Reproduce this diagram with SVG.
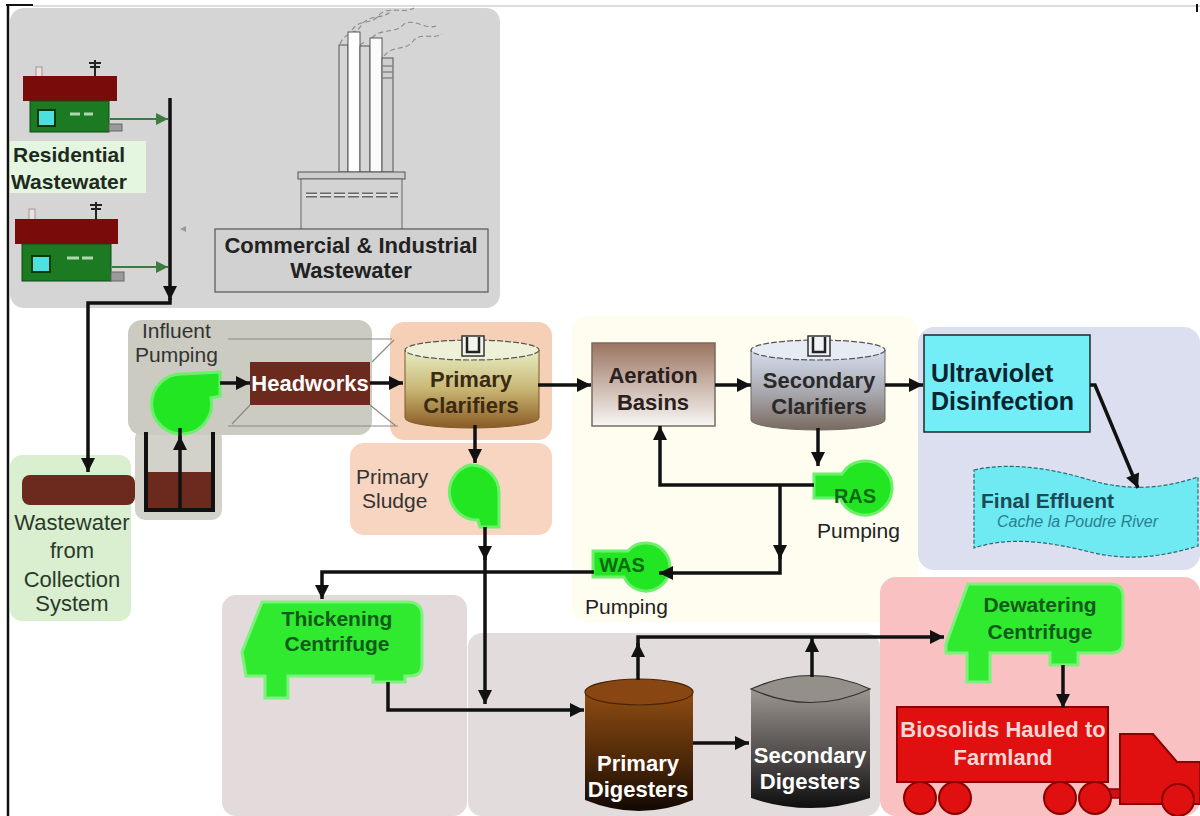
<svg xmlns="http://www.w3.org/2000/svg" width="1200" height="816" viewBox="0 0 1200 816">
  <defs>
    <style>
      text { font-family: "Liberation Sans", Arial, sans-serif; }
      .b { font-weight: bold; font-size: 22px; }
      .r { font-size: 22px; }
      .mid { text-anchor: middle; }
      .flow { fill: none; stroke: #111; stroke-width: 3.5; stroke-linejoin: miter; }
      .feed { fill: none; stroke: #3f7a3f; stroke-width: 2; }
      .pump { fill: #22e622; stroke: #6cf06c; stroke-width: 3; }
      .cent { fill: #2fea2f; stroke: #7cf27c; stroke-width: 3; }
      .thin { fill: none; stroke: #8a8a8a; stroke-width: 1.2; }
      .smoke { fill: none; stroke: #8a8a8a; stroke-width: 1.1; stroke-dasharray: 5 3; }
      .wheel { fill: #e01010; stroke: #8a0000; stroke-width: 2; }
    </style>
    <marker id="ah" viewBox="0 0 10 10" refX="10" refY="5" markerWidth="16" markerHeight="14" markerUnits="userSpaceOnUse" orient="auto">
      <path d="M0 0 L10 5 L0 10 Z" fill="#111"/>
    </marker>
    <marker id="ahg" viewBox="0 0 10 10" refX="10" refY="5" markerWidth="14" markerHeight="12" markerUnits="userSpaceOnUse" orient="auto">
      <path d="M0 0 L10 5 L0 10 Z" fill="#3f7a3f"/>
    </marker>
    <linearGradient id="gClar1" x1="0" y1="0" x2="0" y2="1">
      <stop offset="0" stop-color="#e6eec4"/>
      <stop offset="0.5" stop-color="#c9b674"/>
      <stop offset="1" stop-color="#8a5a24"/>
    </linearGradient>
    <linearGradient id="gAer" x1="0" y1="0" x2="0" y2="1">
      <stop offset="0" stop-color="#9b7460"/>
      <stop offset="1" stop-color="#f8f6f4"/>
    </linearGradient>
    <linearGradient id="gClar2" x1="0" y1="0" x2="0" y2="1">
      <stop offset="0" stop-color="#d4deef"/>
      <stop offset="0.55" stop-color="#a6a6ac"/>
      <stop offset="1" stop-color="#7a6a5e"/>
    </linearGradient>
    <linearGradient id="gDig1" x1="0" y1="0" x2="0" y2="1">
      <stop offset="0" stop-color="#8f4c12"/>
      <stop offset="0.6" stop-color="#4a2608"/>
      <stop offset="1" stop-color="#120804"/>
    </linearGradient>
    <linearGradient id="gDig2" x1="0" y1="0" x2="0" y2="1">
      <stop offset="0" stop-color="#9c9590"/>
      <stop offset="0.6" stop-color="#4a4645"/>
      <stop offset="1" stop-color="#0e0e0e"/>
    </linearGradient>
  </defs>

  <rect x="0" y="0" width="1200" height="816" fill="#ffffff"/>

  <!-- page frame -->
  <g id="frame">
    <line x1="33" y1="6" x2="1200" y2="6" stroke="#b8b8b8" stroke-width="1"/>
    <line x1="6" y1="5" x2="33" y2="5" stroke="#111" stroke-width="2"/>
    <line x1="8" y1="4" x2="8" y2="816" stroke="#111" stroke-width="2.5"/>
    <line x1="1197" y1="4" x2="1197" y2="12" stroke="#111" stroke-width="2"/>
  </g>

  <!-- background zones -->
  <g id="zones">
    <rect x="10" y="8" width="490" height="300" rx="14" fill="#d5d5d5"/>
    <rect x="572" y="316" width="346" height="306" rx="16" fill="#fefdf0"/>
    <rect x="10" y="455" width="121" height="166" rx="12" fill="#d9efcf"/>
    <rect x="135" y="428" width="87" height="92" rx="10" fill="#d2d2ca"/>
    <rect x="128" y="320" width="244" height="115" rx="14" fill="#cbcbc1"/>
    <rect x="390" y="322" width="162" height="118" rx="14" fill="#f6cfb7"/>
    <rect x="350" y="443" width="202" height="92" rx="14" fill="#f7d5c1"/>
    <rect x="918" y="327" width="282" height="243" rx="16" fill="#dcdff0"/>
    <rect x="880" y="577" width="320" height="239" rx="16" fill="#f9c1c1"/>
    <rect x="222" y="595" width="245" height="221" rx="14" fill="#e2dadb"/>
    <rect x="468" y="633" width="412" height="183" rx="14" fill="#e2dcdd"/>
  </g>

  <!-- houses -->
  <g id="house-1">
    <rect x="36" y="67" width="6" height="13" fill="#f2dede" stroke="#999" stroke-width="1"/>
    <path d="M95 60 V76 M89 63 H101 M90 67 H100" stroke="#222" stroke-width="2" fill="none"/>
    <rect x="23" y="76" width="94" height="25" fill="#7a0b0b"/>
    <rect x="30" y="101" width="79" height="31" fill="#1c7a22" stroke="#0f4a12" stroke-width="1"/>
    <rect x="38" y="110" width="17" height="16" fill="#4ee0e0" stroke="#0a3a0a" stroke-width="2"/>
    <path d="M70 114 H80 M84 114 H93" stroke="#b0d8b0" stroke-width="3"/>
    <rect x="109" y="124" width="13" height="7" fill="#9a9a9a" stroke="#666" stroke-width="1"/>
  </g>
  <g id="house-2">
    <rect x="29" y="209" width="6" height="19" fill="#f2dede" stroke="#999" stroke-width="1"/>
    <path d="M96 202 V219 M90 205 H102 M91 209 H101" stroke="#222" stroke-width="2" fill="none"/>
    <rect x="15" y="219" width="103" height="25" fill="#7a0b0b"/>
    <rect x="22" y="244" width="89" height="37" fill="#1c7a22" stroke="#0f4a12" stroke-width="1"/>
    <rect x="32" y="256" width="18" height="16" fill="#4ee0e0" stroke="#0a3a0a" stroke-width="2"/>
    <path d="M67 258 H79 M82 258 H93" stroke="#b0d8b0" stroke-width="3"/>
    <rect x="111" y="272" width="13" height="9" fill="#9a9a9a" stroke="#666" stroke-width="1"/>
  </g>
  <g id="residential-label">
    <rect x="10" y="141" width="136" height="52" fill="#e4f6df"/>
    <text class="r" x="13" y="162" fill="#1e2a1e" style="font-weight:bold;font-size:21px">Residential</text>
    <text class="r" x="11" y="189" fill="#1e2a1e" style="font-weight:bold;font-size:21px">Wastewater</text>
  </g>
  <path d="M186 226 L180 229 L186 232 Z" fill="#999"/>

  <!-- factory -->
  <g id="industry">
    <path class="smoke" d="M340 44 C346 30 356 36 362 24 C370 14 384 20 392 10"/>
    <path class="smoke" d="M352 30 C360 18 372 26 380 14 C390 6 404 14 414 8"/>
    <path class="smoke" d="M372 38 C380 28 396 34 404 24 C414 18 426 30 436 26"/>
    <path class="smoke" d="M384 56 C394 44 406 52 414 40 C422 32 434 40 442 34"/>
    <path class="smoke" d="M346 52 C352 44 360 48 366 40"/>
    <rect x="339" y="45" width="9" height="127" fill="#d6d6d6" stroke="#555" stroke-width="1"/>
    <rect x="348" y="32" width="12" height="140" fill="#ffffff" stroke="#555" stroke-width="1"/>
    <rect x="360" y="46" width="10" height="126" fill="#d6d6d6" stroke="#555" stroke-width="1"/>
    <rect x="370" y="38" width="12" height="134" fill="#fbfbfb" stroke="#555" stroke-width="1"/>
    <rect x="382" y="58" width="11" height="114" fill="#cfcfcf" stroke="#555" stroke-width="1"/>
    <path d="M382 66 H393 M382 72 H393 M382 78 H393" stroke="#888" stroke-width="1.5"/>
    <rect x="298" y="172" width="107" height="7" fill="#cccccc" stroke="#555" stroke-width="1"/>
    <rect x="301" y="179" width="101" height="51" fill="#d3d3d3" stroke="#666" stroke-width="1"/>
    <path d="M306 195 H398" stroke="#666" stroke-width="5" stroke-dasharray="11 3"/>
    <path d="M306 195 H398" stroke="#e4e4e4" stroke-width="2" stroke-dasharray="11 3"/>
    <rect x="215" y="229" width="273" height="63" fill="#d1d1d1" stroke="#555" stroke-width="1.2"/>
    <text class="b mid" x="351" y="253" fill="#222">Commercial &amp; Industrial</text>
    <text class="b mid" x="351" y="278" fill="#222">Wastewater</text>
  </g>

  <!-- collection pipe -->
  <g id="collection">
    <rect x="22" y="475" width="113" height="30" rx="8" fill="#6b2a1d"/>
    <text class="r mid" x="72" y="530" fill="#2a3a2a">Wastewater</text>
    <text class="r mid" x="72" y="558" fill="#2a3a2a">from</text>
    <text class="r mid" x="72" y="587" fill="#2a3a2a">Collection</text>
    <text class="r mid" x="72" y="611" fill="#2a3a2a">System</text>
  </g>

  <!-- influent pumping and wet well -->
  <g id="influent-pumping">
    <text x="142" y="338" fill="#333" style="font-size:21px">Influent</text>
    <text x="135" y="362" fill="#333" style="font-size:21px">Pumping</text>
    <rect x="147" y="472" width="66" height="38" fill="#6b2a1d"/>
    <path d="M146 432 V510 H213 V432" fill="none" stroke="#111" stroke-width="4"/>
    <path class="pump" d="M183 374 L220 372 L220 396 L211 398 A30 30 0 1 1 183 374 Z"/>
  </g>

  <!-- headworks -->
  <g id="headworks">
    <path class="thin" d="M228 339 H392 M228 426 H398 M372 362 L394 340 M370 405 L396 426 M250 405 L232 424"/>
    <rect x="250" y="362" width="120" height="43" fill="#6b2a1d"/>
    <text class="b mid" x="310" y="391" fill="#ffffff">Headworks</text>
  </g>

  <!-- primary clarifiers -->
  <g id="primary-clarifiers">
    <path d="M405 350 V418 A67 10 0 0 0 539 418 V350 Z" fill="url(#gClar1)" stroke="#7a5a2a" stroke-width="1"/>
    <ellipse cx="472" cy="350" rx="67" ry="10" fill="#eef1d8" stroke="#555" stroke-width="1.2" stroke-dasharray="6 2"/>
    <rect x="462" y="336" width="22" height="20" fill="#f4f4ee" stroke="#333" stroke-width="1.5"/>
    <path d="M467 337 V352 H479 V337" fill="none" stroke="#222" stroke-width="2.5"/>
    <text class="b mid" x="471" y="387" fill="#3a2a10">Primary</text>
    <text class="b mid" x="471" y="413" fill="#3a2a10">Clarifiers</text>
  </g>

  <!-- primary sludge pumping -->
  <g id="primary-sludge">
    <text x="356" y="484" fill="#333" style="font-size:21px">Primary</text>
    <text x="362" y="508" fill="#333" style="font-size:21px">Sludge</text>
    <path class="pump" d="M470 465 A28 28 0 0 1 499 493 L499 527 L480 527 L478 520 A28 28 0 0 1 470 465 Z"/>
  </g>

  <!-- aeration basins -->
  <g id="aeration-basins">
    <rect x="592" y="343" width="123" height="83" fill="url(#gAer)" stroke="#7a6a60" stroke-width="1.5"/>
    <text class="b mid" x="653" y="383" fill="#2a2020">Aeration</text>
    <text class="b mid" x="653" y="410" fill="#2a2020">Basins</text>
  </g>

  <!-- secondary clarifiers -->
  <g id="secondary-clarifiers">
    <path d="M751 350 V420 A67 10 0 0 0 885 420 V350 Z" fill="url(#gClar2)" stroke="#6a6a6a" stroke-width="1"/>
    <ellipse cx="818" cy="350" rx="67" ry="10" fill="#e6ebf4" stroke="#555" stroke-width="1.2" stroke-dasharray="6 2"/>
    <rect x="808" y="336" width="22" height="20" fill="#f0f2f6" stroke="#333" stroke-width="1.5"/>
    <path d="M813 337 V352 H825 V337" fill="none" stroke="#222" stroke-width="2.5"/>
    <text class="b mid" x="819" y="388" fill="#2a2a2a">Secondary</text>
    <text class="b mid" x="819" y="414" fill="#2a2a2a">Clarifiers</text>
  </g>

  <!-- RAS pumping -->
  <g id="ras-pumping">
    <path class="pump" d="M814 474 L842 474 A27 27 0 1 1 840 498 L814 498 Z"/>
    <text class="b mid" x="855" y="503" fill="#0b6a12" style="font-size:20px">RAS</text>
    <text x="817" y="538" fill="#222" style="font-size:21px">Pumping</text>
  </g>

  <!-- WAS pumping -->
  <g id="was-pumping">
    <path class="pump" d="M593 551 L628 551 A24 24 0 1 1 624 577 L593 577 Z"/>
    <text class="b mid" x="622" y="572" fill="#0b6a12" style="font-size:20px">WAS</text>
    <text x="585" y="614" fill="#222" style="font-size:21px">Pumping</text>
  </g>

  <!-- UV disinfection -->
  <g id="uv-disinfection">
    <rect x="924" y="335" width="166" height="97" fill="#74eef6" stroke="#1a2a2a" stroke-width="1.5"/>
    <text x="931" y="382" fill="#0a2530" style="font-weight:bold;font-size:25px">Ultraviolet</text>
    <text x="931" y="410" fill="#0a2530" style="font-weight:bold;font-size:25px">Disinfection</text>
  </g>

  <!-- final effluent -->
  <g id="final-effluent">
    <path d="M974 470 C1010 462 1050 468 1090 480 C1130 492 1165 488 1198 477 L1198 546 C1165 556 1130 562 1090 552 C1050 542 1010 536 974 548 Z" fill="#6fe9f2" stroke="#2a6a70" stroke-width="1.2" stroke-dasharray="4 2"/>
    <text x="981" y="508" fill="#1a4a55" style="font-weight:bold;font-size:21px">Final Effluent</text>
    <text x="997" y="527" fill="#2a8090" style="font-style:italic;font-size:16px">Cache la Poudre River</text>
  </g>

  <!-- thickening centrifuge -->
  <g id="thickening-centrifuge">
    <path class="cent" d="M262 602 L408 602 Q422 602 422 616 L422 664 Q422 676 410 676 L405 676 L405 682 L373 682 L373 676 L288 676 L288 698 L265 698 L265 676 L246 676 L242 652 Z"/>
    <text class="b mid" x="337" y="626" fill="#125a1c" style="font-size:21px">Thickening</text>
    <text class="b mid" x="337" y="651" fill="#125a1c" style="font-size:21px">Centrifuge</text>
  </g>

  <!-- primary digesters -->
  <g id="primary-digesters">
    <path d="M585 692 V800 Q639 822 693 800 V692 Z" fill="url(#gDig1)"/>
    <ellipse cx="639" cy="692" rx="54" ry="13" fill="#874612" stroke="#4a2306" stroke-width="1.2"/>
    <text class="b mid" x="638" y="771" fill="#ffffff">Primary</text>
    <text class="b mid" x="638" y="797" fill="#ffffff">Digesters</text>
  </g>

  <!-- secondary digesters -->
  <g id="secondary-digesters">
    <path d="M751 689 V798 Q810 818 870 798 V689 Z" fill="url(#gDig2)"/>
    <path d="M751 689 Q811 662 870 689 Q811 716 751 689 Z" fill="#958f8a" stroke="#333" stroke-width="1.2"/>
    <text class="b mid" x="810" y="763" fill="#ffffff">Secondary</text>
    <text class="b mid" x="810" y="789" fill="#ffffff">Digesters</text>
  </g>

  <!-- dewatering centrifuge -->
  <g id="dewatering-centrifuge">
    <path class="cent" d="M968 584 L1110 584 Q1123 584 1123 597 L1123 641 Q1123 653 1111 653 L1078 653 L1078 665 L1050 665 L1050 653 L990 653 L990 682 L967 682 L967 653 L946 653 L946 644 Z"/>
    <text class="b mid" x="1040" y="612" fill="#125a1c" style="font-size:21px">Dewatering</text>
    <text class="b mid" x="1040" y="639" fill="#125a1c" style="font-size:21px">Centrifuge</text>
  </g>

  <!-- biosolids truck -->
  <g id="biosolids-truck">
    <rect x="1106" y="789" width="18" height="9" fill="#d01010" stroke="#8a0000" stroke-width="1.5"/>
    <path d="M1120 734 L1153 734 L1177 762 L1200 762 L1200 804 L1120 804 Z" fill="#e01010" stroke="#8a0000" stroke-width="2"/>
    <rect x="897" y="707" width="211" height="75" fill="#e01010" stroke="#8a0000" stroke-width="2"/>
    <circle class="wheel" cx="920" cy="798" r="16"/>
    <circle class="wheel" cx="955" cy="798" r="16"/>
    <circle class="wheel" cx="1060" cy="798" r="16"/>
    <circle class="wheel" cx="1095" cy="798" r="16"/>
    <circle class="wheel" cx="1178" cy="800" r="16"/>
    <text class="b mid" x="1003" y="737" fill="#f8d6d6">Biosolids Hauled to</text>
    <text class="b mid" x="1003" y="765" fill="#f8d6d6">Farmland</text>
  </g>

  <!-- flow lines -->
  <g id="connectors">
    <line class="feed" x1="110" y1="119" x2="168" y2="119" marker-end="url(#ahg)"/>
    <line class="feed" x1="112" y1="267" x2="168" y2="267" marker-end="url(#ahg)"/>
    <line class="flow" x1="170" y1="98" x2="170" y2="300" marker-end="url(#ah)"/>
    <polyline class="flow" points="170,298 170,303 88,303 88,472" marker-end="url(#ah)"/>
    <line class="flow" x1="180" y1="510" x2="180" y2="436" marker-end="url(#ah)"/>
    <line class="flow" x1="180" y1="440" x2="180" y2="428"/>
    <line class="flow" x1="220" y1="383" x2="250" y2="383" marker-end="url(#ah)"/>
    <line class="flow" x1="370" y1="383" x2="403" y2="383" marker-end="url(#ah)"/>
    <line class="flow" x1="538" y1="385" x2="591" y2="385" marker-end="url(#ah)"/>
    <line class="flow" x1="715" y1="385" x2="751" y2="385" marker-end="url(#ah)"/>
    <line class="flow" x1="885" y1="385" x2="923" y2="385" marker-end="url(#ah)"/>
    <polyline class="flow" points="1090,385 1095,385 1138,488" marker-end="url(#ah)"/>
    <line class="flow" x1="475" y1="425" x2="475" y2="463" marker-end="url(#ah)"/>
    <line class="flow" x1="485" y1="527" x2="485" y2="560" marker-end="url(#ah)"/>
    <line class="flow" x1="485" y1="556" x2="485" y2="704" marker-end="url(#ah)"/>
    <polyline class="flow" points="594,572 322,572 322,599" marker-end="url(#ah)"/>
    <line class="flow" x1="818" y1="428" x2="818" y2="466" marker-end="url(#ah)"/>
    <polyline class="flow" points="814,485 660,485 660,426" marker-end="url(#ah)"/>
    <polyline class="flow" points="780,485 780,559" marker-end="url(#ah)"/>
    <polyline class="flow" points="780,555 780,573 659,573" marker-end="url(#ah)"/>
    <polyline class="flow" points="388,682 388,710 584,710" marker-end="url(#ah)"/>
    <line class="flow" x1="693" y1="743" x2="749" y2="743" marker-end="url(#ah)"/>
    <line class="flow" x1="638" y1="680" x2="638" y2="643" marker-end="url(#ah)"/>
    <polyline class="flow" points="638,647 638,637 944,637" marker-end="url(#ah)"/>
    <line class="flow" x1="812" y1="677" x2="812" y2="638" marker-end="url(#ah)"/>
    <line class="flow" x1="1063" y1="665" x2="1063" y2="708" marker-end="url(#ah)"/>
  </g>
</svg>
